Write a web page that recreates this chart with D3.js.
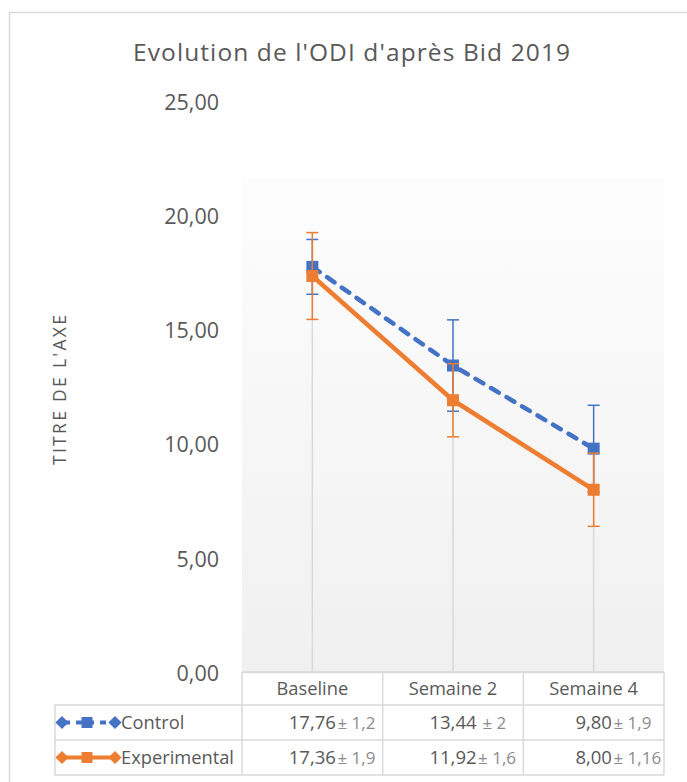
<!DOCTYPE html>
<html><head><meta charset="utf-8">
<script src="https://cdn.jsdelivr.net/npm/d3@7"></script>
<style>body{margin:0;background:#fff}svg{display:block}text{font-family:"Open Sans",sans-serif}</style>
</head><body><svg id="c" width="687" height="782"></svg>
<script>
const categories = ["Baseline", "Semaine 2", "Semaine 4"];
const seriesNames = ["Control", "Experimental"];
const controlValues = [17.76, 13.44, 9.80];
const experimentalValues = [17.36, 11.92, 8.00];
const controlErrors = [1.2, 2, 1.9];
const experimentalErrors = [1.9, 1.6, 1.6];
const controlValueLabels = ["17,76", "13,44", "9,80"];
const experimentalValueLabels = ["17,36", "11,92", "8,00"];
const controlErrLabels = ["± 1,2", " ± 2", "± 1,9"];
const experimentalErrLabels = ["± 1,9", "± 1,6", "± 1,16"];
const yTicks = [0, 5, 10, 15, 20, 25];
const title = "Evolution de l'ODI d'après Bid 2019";
const yTitle = "TITRE DE L'AXE";

const svg = d3.select("#c");
const TXT = "#595959", GRID = "#d9d9d9", BLUE = "#4472C4", ORANGE = "#ED7D31";
const left = 242, right = 664, y0 = 672.5, y25 = 101.5;
const x = d3.scaleBand().domain(categories).range([left, right]);
const cx = c => x(c) + x.bandwidth() / 2;
const y = d3.scaleLinear().domain([0, 25]).range([y0, y25]);

// chart border
svg.append("rect").attr("x", 9.5).attr("y", 12.5).attr("width", 720).attr("height", 820)
  .attr("fill", "#fff").attr("stroke", GRID).attr("stroke-width", 1.5);

// gradient plot background
const defs = svg.append("defs");
const lg = defs.append("linearGradient").attr("id", "g").attr("x1", 0).attr("y1", 0).attr("x2", 0).attr("y2", 1);
lg.append("stop").attr("offset", 0).attr("stop-color", "#fdfdfd");
lg.append("stop").attr("offset", 1).attr("stop-color", "#f0f0f0");
svg.append("rect").attr("x", left).attr("y", 177).attr("width", right - left).attr("height", y0 - 177).attr("fill", "url(#g)");

// title
svg.append("text").attr("x", 351.5).attr("y", 61).attr("text-anchor", "middle")
  .attr("font-size", 24.5).attr("fill", TXT).attr("textLength", 437).attr("lengthAdjust", "spacing").text(title);

// y axis
const yAxis = d3.axisLeft(y).tickValues(yTicks).tickSize(0).tickPadding(0)
  .tickFormat(d => d3.format(".2f")(d).replace(".", ","));
const ya = svg.append("g").attr("transform", `translate(219,0)`).call(yAxis);
ya.select(".domain").remove();
ya.selectAll("text").attr("font-size", 21.5).attr("fill", TXT).attr("font-family", "Open Sans").attr("dy", "0.36em");

svg.append("text").attr("transform", `translate(66,390) rotate(-90)`).attr("text-anchor", "middle")
  .attr("font-size", 17.5).attr("fill", TXT).attr("textLength", 150).attr("lengthAdjust", "spacing").text(yTitle);

// drop lines
const maxVals = categories.map((c, i) => Math.max(controlValues[i], experimentalValues[i]));
svg.append("g").selectAll("line").data(categories).join("line")
  .attr("x1", cx).attr("x2", cx).attr("y1", (c, i) => y(maxVals[i])).attr("y2", y0)
  .attr("stroke", GRID).attr("stroke-width", 1.5);

// x axis line
svg.append("line").attr("x1", left).attr("x2", right).attr("y1", y0).attr("y2", y0).attr("stroke", GRID).attr("stroke-width", 1.5);

const series = [
  {vals: controlValues, errs: controlErrors, color: BLUE, dash: "9,9"},
  {vals: experimentalValues, errs: experimentalErrors, color: ORANGE, dash: null}
];
const line = d3.line().x((v, i) => cx(categories[i])).y(v => y(v));
series.forEach(s => {
  const g = svg.append("g");
  s.vals.forEach((v, i) => {
    const X = cx(categories[i]);
    const hi = y(v + s.errs[i]), lo = y(v - s.errs[i]);
    g.append("line").attr("x1", X).attr("x2", X).attr("y1", hi).attr("y2", lo).attr("stroke", s.color).attr("stroke-width", 1.5);
    [hi, lo].forEach(yy => g.append("line").attr("x1", X - 6).attr("x2", X + 6).attr("y1", yy).attr("y2", yy).attr("stroke", s.color).attr("stroke-width", 1.5));
  });
  g.append("path").attr("d", line(s.vals)).attr("fill", "none").attr("stroke", s.color)
    .attr("stroke-width", 4.5).attr("stroke-dasharray", s.dash).attr("stroke-linecap", s.dash ? "round" : "butt").attr("stroke-linejoin", "round");
  g.selectAll("rect").data(s.vals).join("rect")
    .attr("x", (v, i) => cx(categories[i]) - 6).attr("y", v => y(v) - 6).attr("width", 12).attr("height", 12).attr("fill", s.color);
});

// data table
const rowTop = [672, 705, 740, 775];
const tb = svg.append("g").attr("stroke", GRID).attr("stroke-width", 1.5);
tb.append("line").attr("x1", left).attr("x2", right).attr("y1", rowTop[0]).attr("y2", rowTop[0]);
[1, 2, 3].forEach(r => tb.append("line").attr("x1", 55).attr("x2", right).attr("y1", rowTop[r]).attr("y2", rowTop[r]));
tb.append("line").attr("x1", 55).attr("x2", 55).attr("y1", rowTop[1]).attr("y2", rowTop[3]);
const colEdges = categories.map(c => x(c)).concat([right]);
colEdges.forEach(e => tb.append("line").attr("x1", e).attr("x2", e).attr("y1", rowTop[0]).attr("y2", rowTop[3]));

const midRow = r => (rowTop[r] + rowTop[r + 1]) / 2;
svg.append("g").selectAll("text").data(categories).join("text")
  .attr("x", cx).attr("y", midRow(0) + 6.5).attr("text-anchor", "middle").attr("font-size", 18.3).attr("fill", TXT).text(d => d);

const rows = [
  {vals: controlValueLabels, errs: controlErrLabels},
  {vals: experimentalValueLabels, errs: experimentalErrLabels}
];
rows.forEach((r, ri) => {
  const yy = midRow(ri + 1) + 6.5;
  r.vals.forEach((v, i) => {
    const t = svg.append("text").attr("x", cx(categories[i])).attr("y", yy).attr("text-anchor", "middle")
      .attr("font-size", 18.5).attr("fill", TXT).text(v);
    const w = t.node().getComputedTextLength();
    svg.append("text").attr("x", cx(categories[i]) + w / 2 + 1.5).attr("y", yy)
      .attr("font-size", 17).attr("fill", "#8c8c8c").attr("xml:space", "preserve").style("white-space", "pre").text(r.errs[i]);
  });
});

// legend keys inside table
const keyY = [midRow(1), midRow(2)];
series.forEach((s, i) => {
  const ky = keyY[i];
  svg.append("line").attr("x1", 62).attr("x2", 115).attr("y1", ky).attr("y2", ky).attr("stroke", s.color)
    .attr("stroke-width", 4).attr("stroke-dasharray", s.dash ? "6,6" : null).attr("stroke-dashoffset", s.dash ? -2 : 0);
  const dia = d3.symbol().type(d3.symbolDiamond2).size(110);
  [62, 115].forEach(kx => svg.append("path").attr("d", dia()).attr("transform", `translate(${kx},${ky})`).attr("fill", s.color));
  svg.append("rect").attr("x", 87 - 5.5).attr("y", ky - 5.5).attr("width", 11).attr("height", 11).attr("fill", s.color);
  svg.append("text").attr("x", 121).attr("y", ky + 6.5).attr("font-size", 18.3).attr("fill", TXT).text(seriesNames[i]);
});
</script></body></html>
